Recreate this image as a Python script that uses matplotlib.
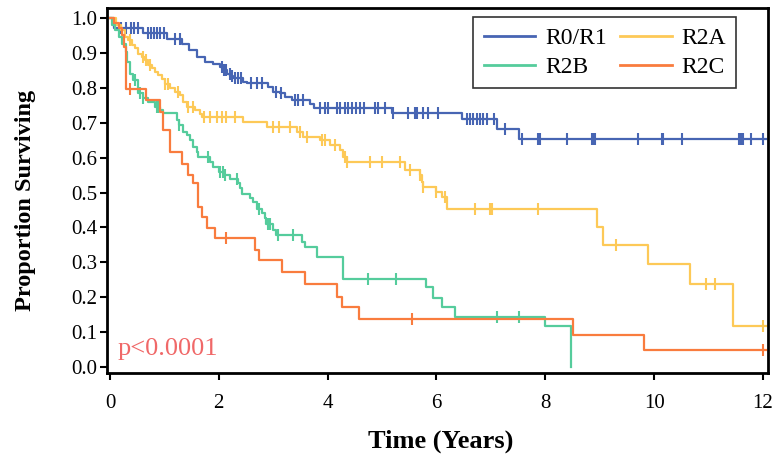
import matplotlib
matplotlib.use("Agg")
import matplotlib.pyplot as plt

# ---------------- data ----------------
groups = ["R0/R1", "R2A", "R2B", "R2C"]
colors = ["#4765b3", "#fdc957", "#55cc9c", "#f97c3e"]

r01_t = [0, 0.08, 0.6, 1.05, 1.32, 1.45, 1.6, 1.75, 1.9, 2.02, 2.08, 2.15, 2.21, 2.27, 2.45, 2.52,
         2.91, 3.0, 3.13, 3.22, 3.34, 3.68, 3.75, 5.18, 6.46, 7.11, 7.51, 12.05]
r01_s = [1.0, 0.971, 0.956, 0.939, 0.927, 0.908, 0.889, 0.875, 0.867, 0.86, 0.851, 0.841, 0.835, 0.827,
         0.817, 0.813, 0.801, 0.789, 0.784, 0.774, 0.765, 0.754, 0.742, 0.729, 0.71, 0.681, 0.652, 0.652]
r01_cens = [0.2, 0.3, 0.38, 0.45, 0.52, 0.7, 0.75, 0.8, 0.86, 0.92, 1.0, 1.2, 1.28, 2.05, 2.1, 2.13,
            2.2, 2.25, 2.3, 2.35, 2.4, 2.6, 2.7, 2.8, 3.05, 3.15, 3.4, 3.45, 3.55, 3.86, 3.95, 4.01,
            4.17, 4.23, 4.32, 4.38, 4.44, 4.53, 4.6, 4.66, 4.87, 4.93, 5.06, 5.21, 5.48, 5.61, 5.64,
            5.76, 5.85, 6.03, 6.56, 6.62, 6.68, 6.74, 6.8, 6.86, 6.93, 7.05, 7.26, 7.57, 7.87, 7.9,
            8.39, 8.85, 8.88, 8.92, 9.71, 10.14, 10.17, 10.52, 11.55, 11.6, 11.64, 11.78, 12.0]

r2a_t = [0, 0.12, 0.2, 0.27, 0.33, 0.4, 0.46, 0.52, 0.58, 0.64, 0.7, 0.77, 0.83, 0.89, 0.95, 1.01,
         1.1, 1.19, 1.29, 1.35, 1.41, 1.56, 1.65, 1.7, 2.45, 2.88, 3.43, 3.55, 3.86, 4.05, 4.23,
         4.28, 4.35, 5.42, 5.7, 5.73, 5.76, 6.0, 6.1, 6.2, 8.95, 9.06, 9.88, 10.66, 11.45, 12.05]
r2a_s = [1.0, 0.98, 0.966, 0.946, 0.937, 0.923, 0.913, 0.898, 0.889, 0.88, 0.865, 0.856, 0.846,
         0.837, 0.824, 0.812, 0.799, 0.789, 0.779, 0.76, 0.746, 0.736, 0.725, 0.717, 0.703, 0.688,
         0.674, 0.66, 0.65, 0.636, 0.622, 0.603, 0.588, 0.564, 0.55, 0.531, 0.516, 0.502, 0.488,
         0.454, 0.402, 0.351, 0.295, 0.238, 0.119, 0.119]
r2a_cens = [0.37, 0.61, 0.67, 0.74, 1.01, 1.07, 1.25, 1.44, 1.53, 1.72, 1.84, 1.96, 2.05, 2.14, 2.3,
            3.0, 3.1, 3.31, 3.49, 3.62, 3.89, 3.95, 4.14, 4.32, 4.35, 4.78, 4.99, 5.33, 5.51, 5.7,
            5.76, 6.0, 6.16, 6.71, 6.99, 7.02, 7.87, 9.3, 10.96, 11.12, 12.0]

r2b_t = [0, 0.03, 0.1, 0.17, 0.23, 0.3, 0.31, 0.37, 0.43, 0.52, 0.61, 0.7, 0.82, 0.92, 0.97, 1.23,
         1.26, 1.35, 1.41, 1.47, 1.53, 1.6, 1.62, 1.83, 1.89, 2.0, 2.09, 2.2, 2.36, 2.39, 2.42,
         2.57, 2.63, 2.7, 2.79, 2.84, 2.87, 2.99, 3.06, 3.52, 3.58, 3.8, 4.29, 5.81, 5.94, 6.11,
         6.34, 8.0, 8.47]
r2b_s = [1.0, 0.98, 0.966, 0.946, 0.927, 0.904, 0.875, 0.841, 0.822, 0.784, 0.77, 0.76, 0.746,
         0.736, 0.727, 0.708, 0.693, 0.674, 0.665, 0.65, 0.631, 0.617, 0.603, 0.588, 0.574, 0.56,
         0.55, 0.538, 0.528, 0.512, 0.497, 0.483, 0.474, 0.454, 0.44, 0.426, 0.411, 0.393, 0.378,
         0.359, 0.343, 0.316, 0.251, 0.229, 0.197, 0.173, 0.144, 0.117, 0.062]
r2b_cens = [0.46, 0.55, 0.61, 0.86, 0.89, 1.26, 1.81, 2.02, 2.08, 2.11, 2.33, 2.73, 2.91, 2.94,
            3.09, 3.37, 4.75, 5.26, 7.11, 7.51]

r2c_t = [0, 0.07, 0.17, 0.22, 0.26, 0.3, 0.67, 0.92, 0.98, 1.1, 1.33, 1.43, 1.53, 1.62, 1.69,
         1.78, 1.93, 2.67, 2.73, 3.16, 3.58, 4.18, 4.26, 4.57, 8.5, 9.82, 12.05]
r2c_s = [1.0, 0.985, 0.971, 0.951, 0.918, 0.798, 0.765, 0.732, 0.679, 0.617, 0.583, 0.55, 0.526,
         0.459, 0.43, 0.397, 0.371, 0.335, 0.307, 0.271, 0.238, 0.201, 0.171, 0.138, 0.093,
         0.049, 0.049]
r2c_cens = [0.37, 2.14, 5.55, 12.0]

x_ticks = [0, 2, 4, 6, 8, 10, 12]
y_ticks = [0.0, 0.1, 0.2, 0.3, 0.4, 0.5, 0.6, 0.7, 0.8, 0.9, 1.0]
p_text = "p<0.0001"

# ---------------- plot ----------------
serif = ["Liberation Serif", "DejaVu Serif"]
plt.rcParams["font.family"] = serif

fig = plt.figure(figsize=(7.78, 4.66), dpi=100)
ax = fig.add_axes([0.1375, 0.1996, 0.8495, 0.7834])


def surv_at(ts, ss, t):
    val = ss[0]
    for ti, si in zip(ts, ss):
        if ti <= t:
            val = si
        else:
            break
    return val


series = [(r01_t, r01_s, r01_cens), (r2a_t, r2a_s, r2a_cens),
          (r2b_t, r2b_s, r2b_cens), (r2c_t, r2c_s, r2c_cens)]
handles = []
for (ts, ss, cens), name, col in zip(series, groups, colors):
    if name == "R2B":
        ts_plot = ts + [ts[-1]]
        ss_plot = ss + [0.0]
        h, = ax.step(ts_plot, ss_plot, where="post", color=col, lw=1.6, label=name)
    else:
        h, = ax.step(ts, ss, where="post", color=col, lw=1.6, label=name)
    handles.append(h)
    cy = [surv_at(ts, ss, c) for c in cens]
    ax.plot(cens, cy, linestyle="none", marker="|", color=col, markersize=8, mew=1.5)

ax.set_xlim(-0.055, 12.09)
ax.set_ylim(-0.017, 1.029)
ax.set_xticks(x_ticks)
ax.set_xticklabels([str(v) for v in x_ticks])
ax.set_yticks(y_ticks)
ax.set_yticklabels([f"{v:.1f}" for v in y_ticks])
ax.tick_params(axis="both", direction="out", length=5, width=1.5, labelsize=15, colors="black")
ax.tick_params(axis="y", pad=2)
ax.tick_params(axis="x", pad=10)
for sp in ax.spines.values():
    sp.set_linewidth(2)

ax.set_xlabel("Time (Years)", fontsize=19, fontweight="bold")
ax.xaxis.set_label_coords(0.505, -0.155)
ax.set_ylabel("Proportion Surviving", fontsize=17.5, fontweight="bold")
ax.yaxis.set_label_coords(-0.108, 0.474)

ax.text(0.14, 0.035, p_text, color="#f06868", fontsize=19)

order = [handles[0], handles[2], handles[1], handles[3]]
leg = ax.legend(order, [h.get_label() for h in order], ncol=2, loc="upper right",
                bbox_to_anchor=(0.952, 0.975), fontsize=17, frameon=True, fancybox=False,
                edgecolor="black", handlelength=2.2, columnspacing=0.55, handletextpad=0.4,
                borderpad=0.45, labelspacing=0.3, borderaxespad=0.0)
leg.get_frame().set_linewidth(1.2)
for lh in leg.get_lines():
    lh.set_linewidth(2)

fig.savefig("out.png", dpi=100)
